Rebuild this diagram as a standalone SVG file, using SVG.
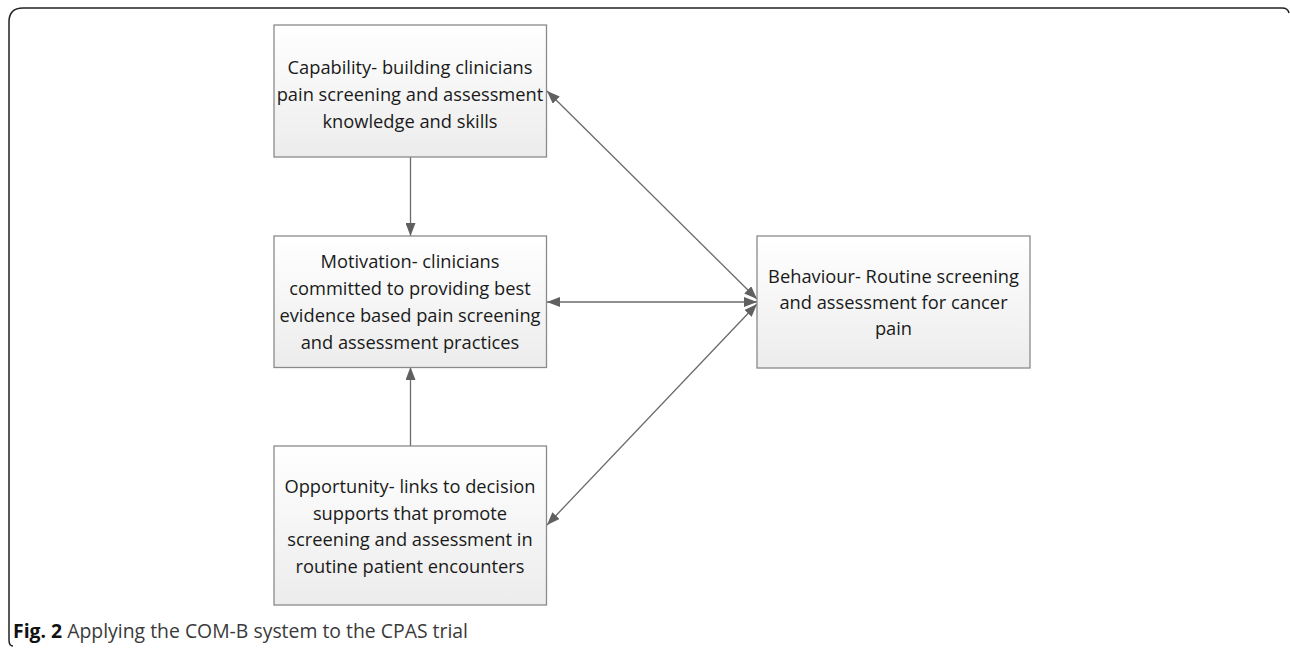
<svg xmlns="http://www.w3.org/2000/svg" width="1290" height="649" viewBox="0 0 1290 649">
<defs>
<linearGradient id="g" x1="0" y1="0" x2="0" y2="1">
<stop offset="0" stop-color="#ffffff"/>
<stop offset="1" stop-color="#ececec"/>
</linearGradient>
<marker id="ah" viewBox="0 0 13 10" refX="13" refY="5" markerWidth="13" markerHeight="10" markerUnits="userSpaceOnUse" orient="auto-start-reverse">
<path d="M0,0 L13,5 L0,10 Z" fill="#606060"/>
</marker>
<style>
.box{fill:url(#g);stroke:#8a8a8a;stroke-width:1.3}
.t{font-family:"Open Sans","Liberation Sans",sans-serif;font-size:18.3px;fill:#1a1a1a;text-anchor:middle}
.c{stroke:#6a6a6a;stroke-width:1.3;fill:none}
.cap{font-family:"Open Sans","Liberation Sans",sans-serif;font-size:19.4px;fill:#3a3a3a}
</style>
</defs>
<path d="M13,646 Q9,646 9,640 L9,22 Q9,8 23,8 L1282,8 Q1288,8 1289,13" fill="none" stroke="#222" stroke-width="1.5"/>
<g id="connectors">
<line class="c" x1="410.5" y1="157" x2="410.5" y2="236" marker-end="url(#ah)"/>
<line class="c" x1="410.5" y1="446" x2="410.5" y2="367" marker-end="url(#ah)"/>
<line class="c" x1="547" y1="302" x2="757" y2="302" marker-start="url(#ah)" marker-end="url(#ah)"/>
<line class="c" x1="547" y1="91" x2="757" y2="299" marker-start="url(#ah)" marker-end="url(#ah)"/>
<line class="c" x1="547" y1="525" x2="757" y2="304" marker-start="url(#ah)" marker-end="url(#ah)"/>
</g>
<g id="capability">
<rect class="box" x="274" y="25" width="272.5" height="132"/>
<text class="t"><tspan x="410" y="74">Capability- building clinicians</tspan><tspan x="410" y="101">pain screening and assessment</tspan><tspan x="410" y="128">knowledge and skills</tspan></text>
</g>
<g id="motivation">
<rect class="box" x="274" y="236" width="272.5" height="131.5"/>
<text class="t"><tspan x="410" y="268">Motivation- clinicians</tspan><tspan x="410" y="295">committed to providing best</tspan><tspan x="410" y="322">evidence based pain screening</tspan><tspan x="410" y="349">and assessment practices</tspan></text>
</g>
<g id="opportunity">
<rect class="box" x="274" y="446" width="272.5" height="159"/>
<text class="t"><tspan x="410" y="493">Opportunity- links to decision</tspan><tspan x="410" y="520">supports that promote</tspan><tspan x="410" y="546">screening and assessment in</tspan><tspan x="410" y="573">routine patient encounters</tspan></text>
</g>
<g id="behaviour">
<rect class="box" x="757" y="236" width="273" height="132"/>
<text class="t"><tspan x="893.5" y="283">Behaviour- Routine screening</tspan><tspan x="893.5" y="309">and assessment for cancer</tspan><tspan x="893.5" y="335">pain</tspan></text>
</g>
<text class="cap" x="13" y="638"><tspan font-weight="bold" fill="#111">Fig. 2</tspan> Applying the COM-B system to the CPAS trial</text>
</svg>
